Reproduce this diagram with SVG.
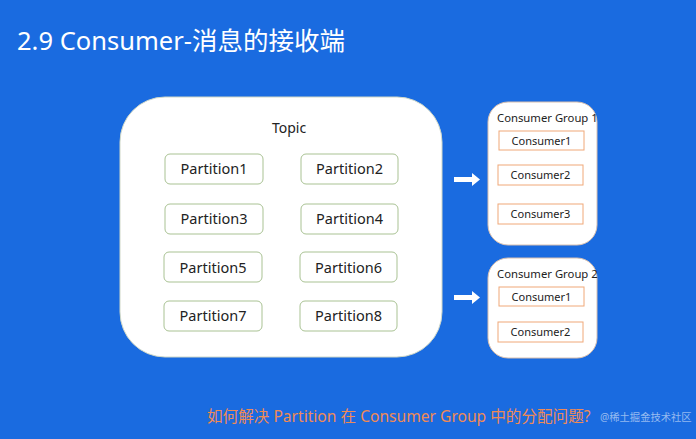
<svg xmlns="http://www.w3.org/2000/svg" width="696" height="439" viewBox="0 0 696 439">
<defs>
<style>
.t{font-family:"Noto Sans","Noto Sans CJK SC",sans-serif;fill:#222}
.part rect{fill:#fff;stroke:#a9c293;stroke-width:1}
.part text{font-size:14.5px;text-anchor:middle}
.cons rect{fill:#fff;stroke:#f0a878;stroke-width:1}
.cons text{font-size:11px;text-anchor:middle}
.grp{fill:#fff;stroke:#d8c0b0;stroke-width:1}
</style>
</defs>
<rect width="696" height="439" fill="#1a6be0"/>
<text x="17" y="50" font-family="'Noto Sans','Noto Sans CJK SC',sans-serif" font-size="25.5" fill="#fff">2.9 Consumer-消息的接收端</text>
<g id="topic">
<rect x="120" y="97" width="322" height="260" rx="45" fill="#fff" stroke="#cfd8c8"/>
<text class="t" x="289" y="133" font-size="14" text-anchor="middle">Topic</text>
</g>
<g id="p1" class="part t"><rect x="165" y="154" width="98" height="30" rx="5"/><text x="214" y="174">Partition1</text></g>
<g id="p2" class="part t"><rect x="301" y="154" width="97" height="30" rx="5"/><text x="349.5" y="174">Partition2</text></g>
<g id="p3" class="part t"><rect x="165" y="204" width="98" height="30" rx="5"/><text x="214" y="224">Partition3</text></g>
<g id="p4" class="part t"><rect x="301" y="204" width="97" height="30" rx="5"/><text x="349.5" y="224">Partition4</text></g>
<g id="p5" class="part t"><rect x="164" y="252" width="98" height="30" rx="5"/><text x="213" y="273">Partition5</text></g>
<g id="p6" class="part t"><rect x="300" y="252" width="97" height="30" rx="5"/><text x="348.5" y="273">Partition6</text></g>
<g id="p7" class="part t"><rect x="164" y="301" width="98" height="30" rx="5"/><text x="213" y="321">Partition7</text></g>
<g id="p8" class="part t"><rect x="300" y="301" width="97" height="30" rx="5"/><text x="348.5" y="321">Partition8</text></g>
<g id="group1">
<rect class="grp" x="488" y="102" width="109" height="143" rx="20"/>
<text class="t" x="497" y="122" font-size="11.3">Consumer Group 1</text>
</g>
<g id="g1c1" class="cons t"><rect x="499" y="131" width="85" height="19"/><text x="541.5" y="145">Consumer1</text></g>
<g id="g1c2" class="cons t"><rect x="498" y="165" width="85" height="20"/><text x="540.5" y="179">Consumer2</text></g>
<g id="g1c3" class="cons t"><rect x="498" y="204" width="85" height="20"/><text x="540.5" y="218">Consumer3</text></g>
<g id="group2">
<rect class="grp" x="488" y="258" width="109" height="100" rx="20"/>
<text class="t" x="497" y="278" font-size="11.3">Consumer Group 2</text>
</g>
<g id="g2c1" class="cons t"><rect x="499" y="287" width="85" height="19"/><text x="541.5" y="301">Consumer1</text></g>
<g id="g2c2" class="cons t"><rect x="498" y="322" width="85" height="20"/><text x="540.5" y="336">Consumer2</text></g>
<g id="connectors" fill="#fff">
<polygon points="454,177 472,177 472,173 480,179.5 472,186 472,182 454,182"/>
<polygon points="454,295 472,295 472,291 480,297.5 472,304 472,300 454,300"/>
</g>
<text x="207" y="422" font-family="'Noto Sans','Noto Sans CJK SC',sans-serif" font-size="15.6" fill="#f08a55">如何解决 Partition 在 Consumer Group 中的分配问题?</text>
<text x="600" y="421" font-family="'Noto Sans','Noto Sans CJK SC',sans-serif" font-size="10.3" fill="#fff" fill-opacity="0.55">@稀土掘金技术社区</text>
</svg>
